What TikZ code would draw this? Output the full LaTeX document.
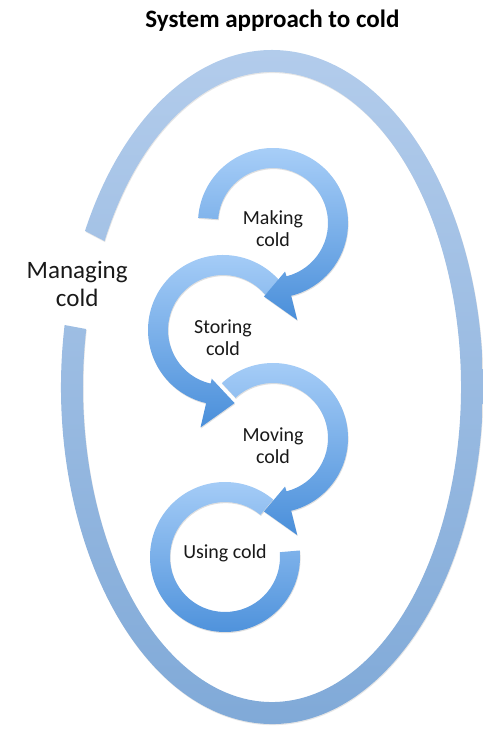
\documentclass[tikz,border=0pt]{standalone}
\usepackage{fontspec}
\setmainfont{Carlito}
\usetikzlibrary{shadows}

\definecolor{ringtop}{HTML}{A9CFF8}
\definecolor{ringbot}{HTML}{4A8FDA}
\definecolor{outertop}{HTML}{B4CDEC}
\definecolor{outerbot}{HTML}{7EA8D7}

\begin{document}
\begin{tikzpicture}[
    ringfill/.style={top color=ringtop, bottom color=ringbot, draw=none,
      drop shadow={opacity=0.25, shadow xshift=0.4pt, shadow yshift=-0.8pt}},
    outerfill/.style={top color=outertop, bottom color=outerbot, draw=none,
      drop shadow={opacity=0.2, shadow xshift=0.4pt, shadow yshift=-0.8pt}},
    steplabel/.style={font=\fontsize{14.2}{15.8}\selectfont, align=center, text=black!90},
    every node/.style={inner sep=0pt}]
    \useasboundingbox (0,0) rectangle (12.075,18.25);

    % Radios de los anillos interiores
    \def\rout{1.875}
    \def\rin{1.375}
    \def\hout{2.5}
    \def\hin{1.25}
    \def\htip{1.85}

    % Centros
    \coordinate (E) at (6.8, 8.575);
    \coordinate (cMake) at (6.825, 12.675);
    \coordinate (cStore) at (5.575, 10.0);
    \coordinate (cMove) at (6.825, 7.3);
    \coordinate (cUse) at (5.625, 4.325);

    % Titulo
    \node[anchor=base, font=\bfseries\fontsize{17.8}{20}\selectfont] (title) at (6.81, 17.55) {System approach to cold};

    % Anillo exterior (Managing cold)
    \path[outerfill] ([shift={(169.4:5.275 and 8.425)}]E)
        arc[start angle=169.4, end angle=512.4, x radius=5.275, y radius=8.425]
        -- ([shift={(512.4:4.725 and 7.875)}]E)
        arc[start angle=512.4, end angle=169.4, x radius=4.725, y radius=7.875] -- cycle;
    \node[font=\fontsize{17.8}{19.5}\selectfont, align=center, text=black!90] (manage) at (1.93, 11.15) {Managing\\cold};

    % Using cold (sin punta)
    \path[ringfill] ([shift={(50:\rout)}]cUse) arc[start angle=50, end angle=365, radius=\rout]
        -- ([shift={(365:\rin)}]cUse) arc[start angle=365, end angle=50, radius=\rin] -- cycle;

    % Moving cold
    \path[ringfill] ([shift={(133:\rout)}]cMove) arc[start angle=133, end angle=-76, radius=\rout]
        -- ([shift={(-76:\hout)}]cMove) -- ([shift={(-97:\htip)}]cMove) -- ([shift={(-76:\hin)}]cMove)
        -- ([shift={(-76:\rin)}]cMove) arc[start angle=-76, end angle=133, radius=\rin] -- cycle;

    % Storing cold
    \path[ringfill] ([shift={(40:\rout)}]cStore) arc[start angle=40, end angle=257, radius=\rout]
        -- ([shift={(257:\hout)}]cStore) -- ([shift={(279:\htip)}]cStore) -- ([shift={(257:\hin)}]cStore)
        -- ([shift={(257:\rin)}]cStore) arc[start angle=257, end angle=40, radius=\rin] -- cycle;

    % Making cold
    \path[ringfill] ([shift={(176:\rout)}]cMake) arc[start angle=176, end angle=-76, radius=\rout]
        -- ([shift={(-76:\hout)}]cMake) -- ([shift={(-97:\htip)}]cMake) -- ([shift={(-76:\hin)}]cMake)
        -- ([shift={(-76:\rin)}]cMake) arc[start angle=-76, end angle=176, radius=\rin] -- cycle;

    % Etiquetas
    \node[steplabel] (making) at ([yshift=-0.15cm]cMake) {Making\\cold};
    \node[steplabel] (storing) at ([yshift=-0.2cm]cStore) {Storing\\cold};
    \node[steplabel] (moving) at ([yshift=-0.2cm]cMove) {Moving\\cold};
    \node[steplabel] (using) at ([yshift=0.1cm]cUse) {Using cold};

\end{tikzpicture}
\end{document}
